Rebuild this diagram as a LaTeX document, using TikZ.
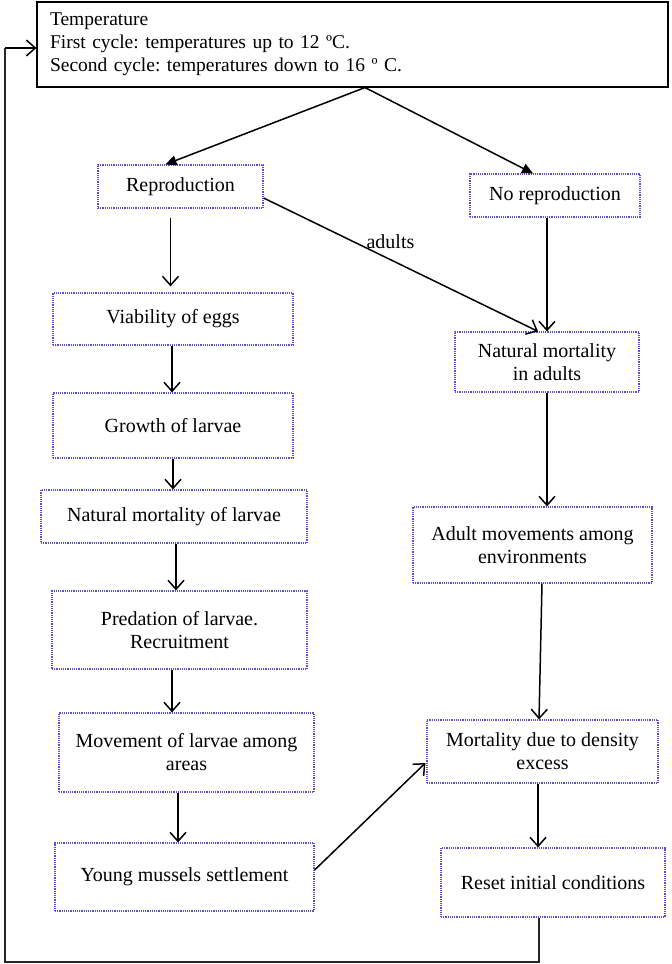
\documentclass[tikz,border=0pt]{standalone}
\usepackage{fontspec}
\setmainfont{Liberation Serif}
\usetikzlibrary{arrows.meta,calc}
\definecolor{dotblue}{RGB}{90,80,215}
\tikzset{
  pbox/.style={draw=dotblue, densely dotted, line width=1.2pt, rectangle, inner sep=2pt, align=center, font=\fontsize{20}{23}\selectfont},
  tbox/.style={draw=black, line width=1.1pt, rectangle, inner xsep=13pt, align=left, font=\fontsize{19.5}{23}\selectfont},
  arr/.style={draw=black, line width=1.5pt, -{Straight Barb[length=9pt,width=16pt,line width=1.5pt]}},
  farr/.style={draw=black, line width=1.5pt, -{Triangle[length=11pt,width=10pt]}},
  loopl/.style={draw=black!85, line width=1.8pt}
}
\begin{document}
\frenchspacing
\begin{tikzpicture}[x=1pt,y=-1pt]
\useasboundingbox (0,0) rectangle (672,964);
\node[tbox, minimum width=631pt, minimum height=85pt, text width=605pt] (temp) at (352.5,44.5)
  {Temperature\\First cycle: temperatures up to 12 ºC.\\Second cycle: temperatures down to 16 º C.};
\node[pbox, minimum width=165pt, minimum height=43pt] (repro) at (180.5,186.5) {Reproduction};
\node[pbox, minimum width=170pt, minimum height=43pt] (norepro) at (555,195.5) {No reproduction};
\node[pbox, minimum width=240pt, minimum height=52pt] (viab) at (173,319) {Viability of eggs};
\node[pbox, minimum width=184pt, minimum height=60pt] (natad) at (547,362) {Natural mortality\\in adults};
\node[pbox, minimum width=240pt, minimum height=65pt] (growth) at (173,425.5) {Growth of larvae};
\node[pbox, minimum width=266pt, minimum height=53pt] (nml) at (174,516.5) {Natural mortality of larvae};
\node[pbox, minimum width=239pt, minimum height=76pt] (adm) at (532.5,545) {Adult movements among\\environments};
\node[pbox, minimum width=255pt, minimum height=78pt] (pred) at (179.5,630) {Predation of larvae.\\Recruitment};
\node[pbox, minimum width=255pt, minimum height=79pt] (mov) at (186.5,752.5) {Movement of larvae among\\areas};
\node[pbox, minimum width=231pt, minimum height=63pt] (mort) at (542.5,751.5) {Mortality due to density\\excess};
\node[pbox, minimum width=259pt, minimum height=68pt] (young) at (184.5,877) {Young mussels settlement};
\node[pbox, minimum width=224pt, minimum height=69pt] (reset) at (553,882.5) {Reset initial conditions};

\coordinate (split) at ([xshift=12.5pt]temp.south);
\draw[farr] (split) -- ([xshift=-15pt]repro.north);
\draw[farr] (split) -- ([xshift=-22pt]norepro.north);

\draw[arr, shorten <=9pt, shorten >=6pt] ([xshift=-10pt]repro.south) -- ([xshift=-10pt]repro.south |- viab.north);
\draw[arr] ([yshift=-11.5pt]repro.east) -- node[pos=0.42, above right, inner sep=1pt, font=\fontsize{20}{23}\selectfont, xshift=-14pt, yshift=4pt] (lab) {adults} ([xshift=-9pt]natad.north);
\draw[arr] (natad.north |- norepro.south) -- (natad.north);
\draw[arr] (natad.south) -- (natad.south |- adm.north);
\draw[arr] ([xshift=9.5pt]adm.south) -- ([xshift=-3.5pt]mort.north);
\draw[arr] ([xshift=-4.5pt]mort.south) -- ([xshift=-4.5pt]mort.south |- reset.north);

\draw[arr] ([xshift=-1pt]viab.south) -- ([xshift=-1pt]viab.south |- growth.north);
\draw[arr] (growth.south) -- (growth.south |- nml.north);
\draw[arr] ([xshift=2pt]nml.south) -- ([xshift=2pt]nml.south |- pred.north);
\draw[arr] ([xshift=-7.5pt]pred.south) -- ([xshift=-7.5pt]pred.south |- mov.north);
\draw[arr] ([xshift=-8.5pt]mov.south) -- ([xshift=-8.5pt]mov.south |- young.north);
\draw[arr] ([yshift=7pt]young.east) -- ([yshift=-11.5pt,xshift=-1pt]mort.west);

\coordinate (lb) at (5,962);
\coordinate (lt) at (5,48);
\draw[loopl] ([xshift=-14pt]reset.south) -- ([xshift=-14pt]reset.south |- lb) -- (lb) -- (lt);
\draw[arr] (lt) -- (lt -| temp.west);
\end{tikzpicture}
\end{document}
